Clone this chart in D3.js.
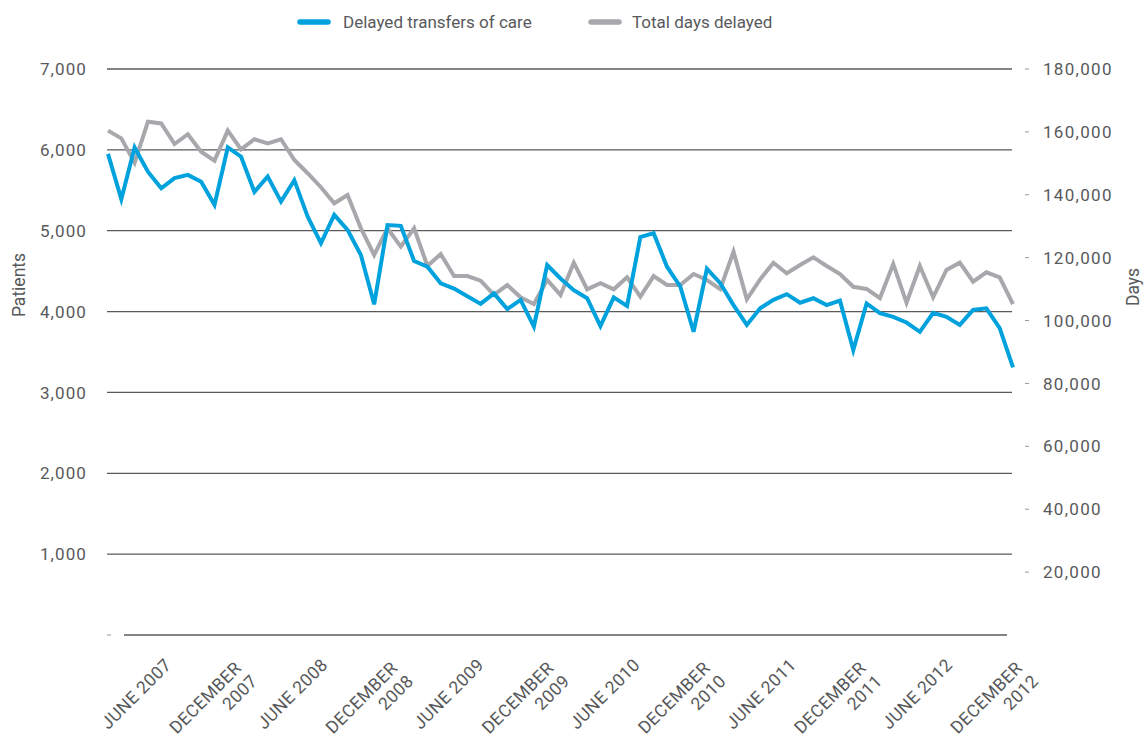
<!DOCTYPE html>
<html>
<head>
<meta charset="utf-8">
<script src="https://cdn.jsdelivr.net/npm/d3@7"></script>
<style>
  body { margin: 0; background: #fff; }
  text { font-family: Roboto, "Open Sans", sans-serif; fill: #58595b; }
</style>
</head>
<body>
<svg id="chart"></svg>
<script>
const w = 1146;
const h = 738;

// months Apr 2007 .. Dec 2012
const startYear = 2007;
const startMonth = 3; // April, 0-based

const patients = [
  5950, 5390, 6030, 5730, 5525, 5650, 5690, 5605, 5320, 6030,
  5915, 5480, 5670, 5360, 5625, 5175, 4845, 5195, 5010, 4700,
  4090, 5070, 5060, 4625, 4555, 4350, 4285, 4190, 4095, 4225,
  4030, 4145, 3815, 4575, 4410, 4265, 4165, 3820, 4175, 4070,
  4920, 4970, 4555, 4310, 3750, 4530, 4350, 4080, 3835, 4040,
  4145, 4215, 4110, 4165, 4080, 4135, 3525, 4100, 3980, 3935,
  3865, 3750, 3985, 3935, 3835, 4020, 4040, 3795, 3310
];

const daysDelayed = [
  160400, 157950, 150200, 163250, 162700, 156150, 159250, 153700, 150850, 160400,
  154450, 157650, 156350, 157650, 151050, 146850, 142400, 137300, 139950, 129350,
  120850, 129350, 123500, 129350, 117350, 121150, 114150, 114150, 112700, 108150,
  111300, 107400, 105250, 112900, 108150, 118400, 109950, 111850, 109950, 113750,
  107600, 114150, 111300, 111300, 114800, 112900, 110000, 121900, 106750, 113100,
  118400, 115050, 117650, 120100, 117350, 114800, 110750, 110050, 107100, 118000,
  105700, 117350, 107400, 116100, 118400, 112350, 115350, 113750, 105250
];

const patientTicks = [1000, 2000, 3000, 4000, 5000, 6000, 7000];
const dayTicks = [20000, 40000, 60000, 80000, 100000, 120000, 140000, 160000, 180000];

// label every 6 months: June and December
const labelIdx = [2, 8, 14, 20, 26, 32, 38, 44, 50, 56, 62, 68];

const seriesNames = ['Delayed transfers of care', 'Total days delayed'];
const colors = ['#00a2dd', '#a7a8ab'];

const svg = d3.select('#chart').attr('width', w).attr('height', h);

const plotLeft = 108;
const plotRight = 1013;
const plotTop = 69;
const plotBottom = 635;

const x = d3.scaleLinear().domain([0, patients.length - 1]).range([plotLeft, plotRight]);
const yL = d3.scaleLinear().domain([0, 7000]).range([plotBottom, plotTop]);
const yR = d3.scaleLinear().domain([0, 180000]).range([plotBottom, plotTop]);
// rotated category labels sit on a slightly tighter spacing than the points
const xLab = d3.scaleLinear().domain([2, 62]).range([172.5, 953.5]);

const monthNames = ['JANUARY', 'FEBRUARY', 'MARCH', 'APRIL', 'MAY', 'JUNE', 'JULY',
  'AUGUST', 'SEPTEMBER', 'OCTOBER', 'NOVEMBER', 'DECEMBER'];
const labelFor = i => {
  const m = (startMonth + i) % 12;
  const y = startYear + Math.floor((startMonth + i) / 12);
  return { month: monthNames[m], year: y };
};

// gridlines
svg.append('g')
  .selectAll('line')
  .data(patientTicks)
  .enter()
  .append('line')
  .attr('x1', 107)
  .attr('x2', 1012)
  .attr('y1', d => yL(d))
  .attr('y2', d => yL(d))
  .attr('stroke', '#5a5a5a')
  .attr('stroke-width', 1.3);

// x axis line
svg.append('line')
  .attr('x1', 124)
  .attr('x2', 1007)
  .attr('y1', yL(0))
  .attr('y2', yL(0))
  .attr('stroke', '#5a5a5a')
  .attr('stroke-width', 1.3);

// left tick labels
svg.append('g')
  .selectAll('text')
  .data(patientTicks)
  .enter()
  .append('text')
  .attr('x', 87)
  .attr('y', d => yL(d))
  .attr('dy', '0.36em')
  .attr('text-anchor', 'end')
  .style('font-size', '17px')
  .style('letter-spacing', '1.1px')
  .text(d => d3.format(',')(d));

svg.append('line')
  .attr('x1', 107)
  .attr('x2', 111)
  .attr('y1', yL(0))
  .attr('y2', yL(0))
  .attr('stroke', '#999')
  .attr('stroke-width', 1);

// right tick labels
const rg = svg.append('g');
rg.selectAll('line')
  .data(dayTicks)
  .enter()
  .append('line')
  .attr('x1', 1025)
  .attr('x2', 1029)
  .attr('y1', d => yR(d))
  .attr('y2', d => yR(d))
  .attr('stroke', '#999')
  .attr('stroke-width', 1);
rg.selectAll('text')
  .data(dayTicks)
  .enter()
  .append('text')
  .attr('x', 1043)
  .attr('y', d => yR(d))
  .attr('dy', '0.36em')
  .style('font-size', '17px')
  .style('letter-spacing', '1.3px')
  .text(d => d3.format(',')(d));

// axis titles
svg.append('text')
  .attr('transform', 'translate(25,285) rotate(-90)')
  .attr('text-anchor', 'middle')
  .style('font-size', '17.5px')
  .text('Patients');
svg.append('text')
  .attr('transform', 'translate(1139,287) rotate(-90)')
  .attr('text-anchor', 'middle')
  .style('font-size', '17.5px')
  .text('Days');

// x labels
const xl = svg.append('g')
  .selectAll('text')
  .data(labelIdx)
  .enter()
  .append('text')
  .attr('transform', d => `translate(${xLab(d)},666) rotate(-45)`)
  .attr('text-anchor', 'end')
  .style('font-size', '17.5px')
  .style('letter-spacing', '0.4px');

xl.each(function (d) {
  const lab = labelFor(d);
  const t = d3.select(this);
  if (lab.month === 'DECEMBER') {
    t.append('tspan').attr('x', -8).attr('y', -3.5).text(lab.month);
    t.append('tspan').attr('x', -6).attr('y', 17).text(lab.year);
  } else {
    t.text(`${lab.month} ${lab.year}`);
  }
});

// lines
const linePatients = d3.line()
  .x((d, i) => x(i))
  .y(d => yL(d));
const lineDays = d3.line()
  .x((d, i) => x(i))
  .y(d => yR(d));

svg.append('path')
  .datum(daysDelayed)
  .attr('d', lineDays)
  .attr('fill', 'none')
  .attr('stroke', colors[1])
  .attr('stroke-width', 4);

svg.append('path')
  .datum(patients)
  .attr('d', linePatients)
  .attr('fill', 'none')
  .attr('stroke', colors[0])
  .attr('stroke-width', 4);

// legend
const legendX = [298, 589];
const lg = svg.append('g')
  .selectAll('g')
  .data(seriesNames)
  .enter()
  .append('g')
  .attr('transform', (d, i) => `translate(${legendX[i]},22)`);
lg.append('line')
  .attr('x1', 2)
  .attr('x2', 30)
  .attr('stroke', (d, i) => colors[i])
  .attr('stroke-width', 5.5)
  .attr('stroke-linecap', 'round');
lg.append('text')
  .attr('x', (d, i) => (i === 0 ? 45 : 43))
  .attr('dy', '0.36em')
  .style('font-size', '17px')
  .text(d => d);
</script>
</body>
</html>
